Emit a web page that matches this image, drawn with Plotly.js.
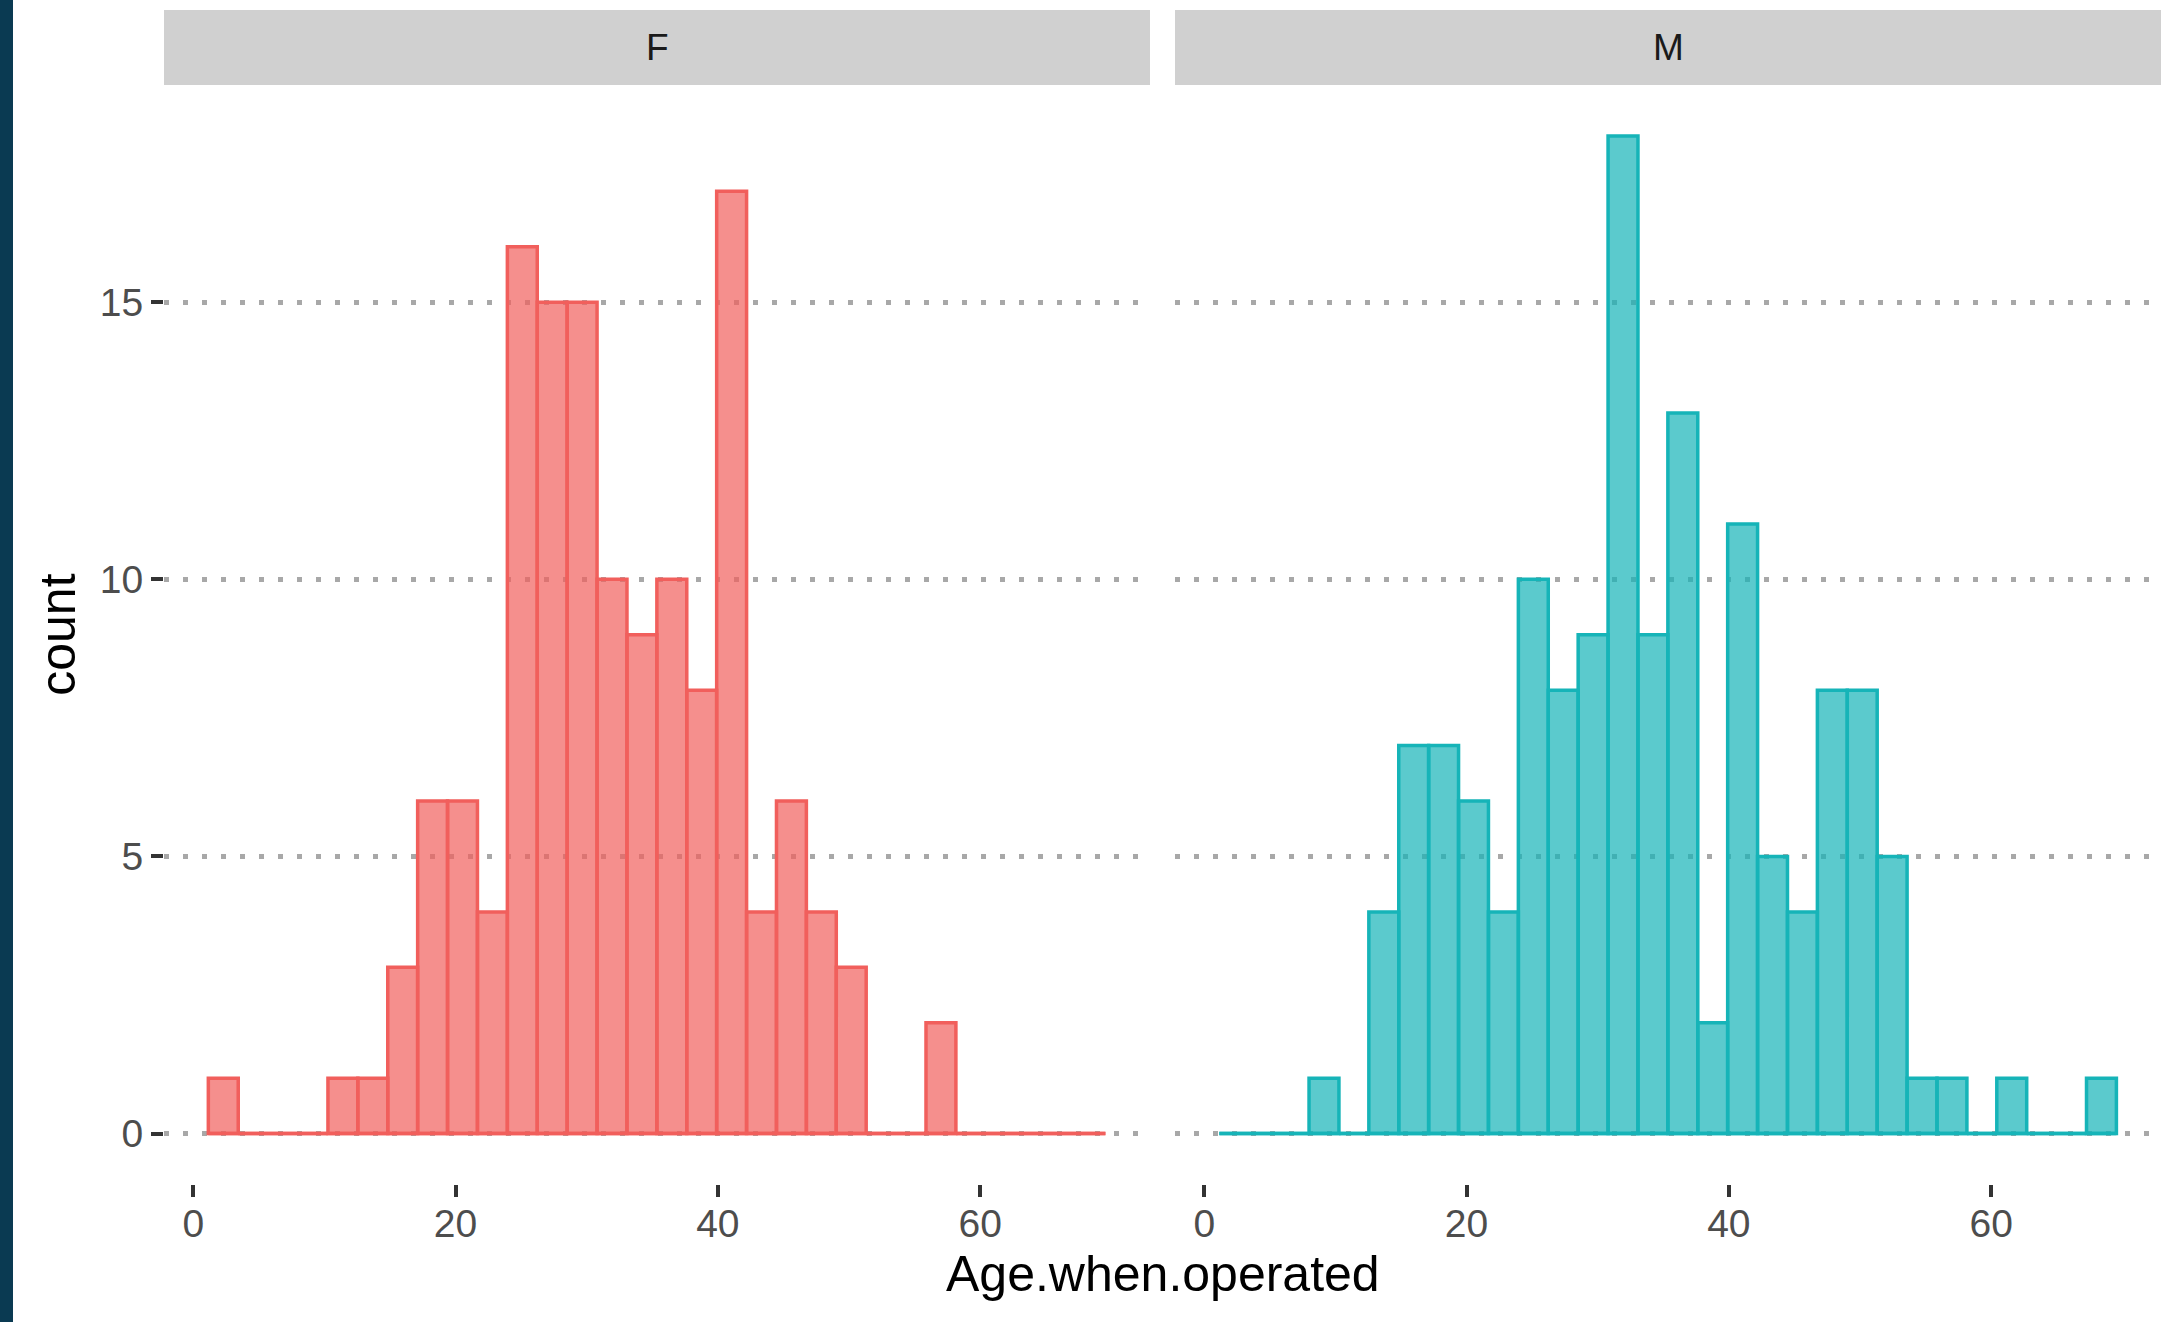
<!DOCTYPE html>
<html>
<head>
<meta charset="utf-8">
<script src="https://cdn.plot.ly/plotly-3.0.1.min.js"></script>
<style>
  html, body { margin: 0; padding: 0; background: #ffffff; }
  #chart { width: 2178px; height: 1322px; }
</style>
</head>
<body>
<div id="chart"></div>
<script>
// ---- data ----
const panels = ["F", "M"];
const binStart = 1.15;      // left edge of the first bin (Age.when.operated)
const binWidth = 2.28;      // width of each of the 30 bins
const countsF = [1, 0, 0, 0, 1, 1, 3, 6, 6, 4, 16, 15, 15, 10, 9, 10, 8, 17, 4, 6, 4, 3, 0, 0, 2, 0, 0, 0, 0, 0];
const countsM = [0, 0, 0, 1, 0, 4, 7, 7, 6, 4, 10, 8, 9, 18, 9, 13, 2, 11, 5, 4, 8, 8, 5, 1, 1, 0, 1, 0, 0, 1];
const xTicks = [0, 20, 40, 60];
const yTicks = [0, 5, 10, 15];
const xTitle = "Age.when.operated";
const yTitle = "count";

// ---- styling ----
const baseColors = ["#F15F5C", "#16B4B8"];
const fillColors = ["rgba(241,95,92,0.7)", "rgba(22,180,184,0.7)"];
const FONT = "Liberation Sans, Arial, Helvetica, sans-serif";

const centers = countsF.map((_, i) => binStart + binWidth * (i + 0.5));
const edgeLo = binStart;
const edgeHi = binStart + binWidth * countsF.length;

const allCounts = [countsF, countsM];
const traces = [];
allCounts.forEach((counts, p) => {
  const xa = p === 0 ? "x" : "x2";
  const ya = p === 0 ? "y" : "y2";
  traces.push({
    type: "scatter", mode: "lines",
    x: [edgeLo, edgeHi], y: [0, 0],
    xaxis: xa, yaxis: ya,
    line: { color: baseColors[p], width: 3.5 },
    hoverinfo: "skip", showlegend: false
  });
  traces.push({
    type: "bar",
    x: centers, y: counts, width: binWidth,
    xaxis: xa, yaxis: ya,
    name: panels[p],
    marker: { color: fillColors[p], line: { color: baseColors[p], width: 3.5 } },
    showlegend: false
  });
});

const W = 2178, H = 1322;
const fx = [164 / W, 1150 / W];
const mx = [1175 / W, 2161 / W];
const yDom = [(H - 1183.5) / H, (H - 86) / H];
const xRange = [-2.23, 72.95];
const yRange = [-0.9, 18.9];

function xAxis(dom, anchor) {
  return {
    domain: dom, range: xRange, anchor: anchor,
    tickmode: "array", tickvals: xTicks, ticktext: xTicks.map(String),
    ticks: "outside", ticklen: 12, tickwidth: 4, tickcolor: "#333333",
    ticklabelstandoff: -6,
    tickfont: { family: FONT, size: 39, color: "#4d4d4d" },
    showgrid: false, zeroline: false, showline: false, automargin: false,
    fixedrange: true
  };
}
function yAxis(anchor, showLabels) {
  return {
    domain: yDom, range: yRange, anchor: anchor,
    tickmode: "array", tickvals: yTicks, ticktext: yTicks.map(String),
    ticks: showLabels ? "outside" : "", ticklen: 12, tickwidth: 4, tickcolor: "#333333",
    showticklabels: showLabels,
    tickfont: { family: FONT, size: 39, color: "#4d4d4d" },
    showgrid: true, gridcolor: "#a8a8a8", gridwidth: 5, griddash: "5px,14px",
    zeroline: false, showline: false, automargin: false, fixedrange: true
  };
}

const stripY = [(H - 85) / H, (H - 10) / H];
const shapes = [
  { type: "rect", xref: "paper", yref: "paper", x0: 0, x1: 13 / W, y0: 0, y1: 1,
    fillcolor: "#0a3a52", line: { width: 0 }, layer: "above" },
  { type: "rect", xref: "paper", yref: "paper", x0: fx[0], x1: fx[1], y0: stripY[0], y1: stripY[1],
    fillcolor: "#d0d0d0", line: { width: 0 } },
  { type: "rect", xref: "paper", yref: "paper", x0: mx[0], x1: mx[1], y0: stripY[0], y1: stripY[1],
    fillcolor: "#d0d0d0", line: { width: 0 } }
];

const annotations = [
  { text: panels[0], xref: "paper", yref: "paper", x: (fx[0] + fx[1]) / 2, y: (stripY[0] + stripY[1]) / 2,
    xanchor: "center", yanchor: "middle", showarrow: false,
    font: { family: FONT, size: 37, color: "#1a1a1a" } },
  { text: panels[1], xref: "paper", yref: "paper", x: (mx[0] + mx[1]) / 2, y: (stripY[0] + stripY[1]) / 2,
    xanchor: "center", yanchor: "middle", showarrow: false,
    font: { family: FONT, size: 37, color: "#1a1a1a" } },
  { text: xTitle, xref: "paper", yref: "paper", x: (fx[0] + mx[1]) / 2, y: (H - 1274) / H,
    xanchor: "center", yanchor: "middle", showarrow: false,
    font: { family: FONT, size: 50, color: "#000000" } },
  { text: yTitle, xref: "paper", yref: "paper", x: 58 / W, y: (yDom[0] + yDom[1]) / 2,
    xanchor: "center", yanchor: "middle", showarrow: false, textangle: -90,
    font: { family: FONT, size: 50, color: "#000000" } }
];

const layout = {
  width: W, height: H,
  margin: { l: 0, r: 0, t: 0, b: 0, pad: 0 },
  paper_bgcolor: "#ffffff", plot_bgcolor: "rgba(0,0,0,0)",
  bargap: 0, barmode: "overlay",
  showlegend: false,
  xaxis: xAxis(fx, "y"),
  xaxis2: xAxis(mx, "y2"),
  yaxis: yAxis("x", true),
  yaxis2: Object.assign(yAxis("x2", false), { matches: "y" }),
  shapes: shapes,
  annotations: annotations,
  font: { family: FONT }
};

Plotly.newPlot("chart", traces, layout, { displayModeBar: false, staticPlot: true });
</script>
</body>
</html>
